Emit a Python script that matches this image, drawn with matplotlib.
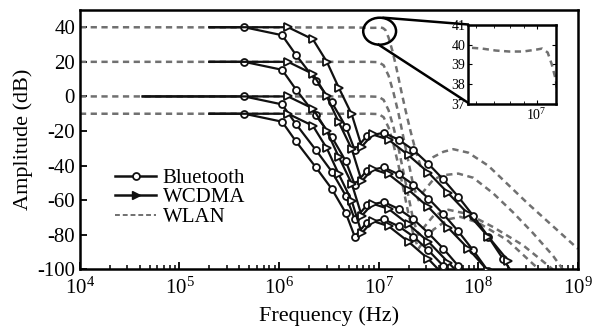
import matplotlib
matplotlib.use("Agg")
import matplotlib.pyplot as plt
from matplotlib.lines import Line2D
from matplotlib.patches import Ellipse
from matplotlib.ticker import LogLocator, NullFormatter

plt.rcParams['font.family'] = ['Liberation Serif', 'DejaVu Serif']
plt.rcParams['mathtext.fontset'] = 'stix'
plt.rcParams['axes.unicode_minus'] = False

# passband gain settings (dB)
gains = [40, 20, 0, -10]
line_start = [5.3, 5.3, 4.63, 5.3]   # log10 f where the solid curves begin

# Bluetooth response relative to passband gain (log10 f, dB)
bt_logf = [5.65, 6.03, 6.17, 6.37, 6.53, 6.67, 6.76, 6.88, 7.05, 7.2, 7.35, 7.5, 7.65, 7.8, 7.95, 8.1, 8.25, 8.4]
bt_rel = [0, -4.6, -16, -31, -43.5, -57.4, -71, -63, -61, -65, -71, -79, -88, -98, -109, -121, -134, -147]

# WCDMA response relative to passband gain
wc_logf = [6.09, 6.34, 6.48, 6.6, 6.73, 6.83, 6.94, 7.1, 7.3, 7.5, 7.7, 7.9, 8.1, 8.3]
wc_rel = [0, -7, -20, -35, -50.4, -69, -62, -65, -74, -84, -96, -108, -121, -135]

# WLAN curves, one per gain
wlan_logf = {
    40: [4.0, 6.75, 6.8, 6.85, 6.9, 6.95, 7.0, 7.02, 7.04, 7.055, 7.07, 7.1, 7.14, 7.18, 7.22, 7.27,
         7.32, 7.37, 7.42, 7.47, 7.55, 7.65, 7.75, 7.9, 8.1, 8.3, 8.5, 8.75, 9.0],
    20: [4.0, 6.9, 7.0, 7.05, 7.1, 7.15, 7.2, 7.25, 7.3, 7.35, 7.4, 7.45, 7.55, 7.65, 7.8, 7.95,
         8.15, 8.35, 8.55, 8.75, 8.85],
    0: [4.0, 6.9, 7.0, 7.05, 7.1, 7.15, 7.2, 7.25, 7.3, 7.35, 7.4, 7.45, 7.55, 7.7, 7.9, 8.15,
        8.45, 8.75],
    -10: [4.0, 6.9, 7.0, 7.05, 7.1, 7.15, 7.2, 7.25, 7.3, 7.35, 7.4, 7.45, 7.55, 7.7, 7.82, 8.0,
          8.29, 8.61],
}
wlan_db = {
    40: [40, 39.85, 39.8, 39.7, 39.65, 39.65, 39.75, 39.8, 39.6, 39.0, 38.2, 34, 26, 16, 5, -8,
         -20, -31, -40, -40, -35, -32, -30.5, -32.5, -40, -51, -62, -75, -88],
    20: [20, 20, 19.8, 18, 12, 2, -10, -24, -38, -52, -60, -55, -48, -45.5, -44.6, -47,
         -56, -67, -79, -92, -100],
    0: [0, 0, -0.2, -2, -8, -18, -30, -44, -58, -72, -80, -76, -69, -65.5, -68, -75.5,
        -86, -100],
    -10: [-10, -10, -10.2, -12, -18, -28, -40, -54, -68, -80, -88, -84, -77, -71, -69.6, -73,
          -83, -100],
}

yticks = [-100, -80, -60, -40, -20, 0, 20, 40]
inset_yticks = [37, 38, 39, 40, 41]

solid = '#111111'
gray = '#707070'

fig = plt.figure(figsize=(5.92, 3.31), dpi=100)
ax = fig.add_axes([0.135, 0.186, 0.841, 0.784])


def draw_curves(a, ms=5):
    for g in gains:
        a.plot([10 ** v for v in wlan_logf[g]], wlan_db[g], color=gray, lw=1.8,
               dashes=(2.5, 1.8), zorder=2)
    for g, s in zip(gains, line_start):
        x = [10 ** s] + [10 ** v for v in bt_logf]
        y = [g] + [g + r for r in bt_rel]
        a.plot(x, y, color=solid, lw=1.6, marker='o', ms=ms, mfc='white', mec=solid,
               mew=1.3, markevery=list(range(1, len(x))), zorder=3)
        x = [10 ** s] + [10 ** v for v in wc_logf]
        y = [g] + [g + r for r in wc_rel]
        a.plot(x, y, color=solid, lw=1.6, marker='>', ms=ms + 1, mfc='white', mec=solid,
               mew=1.3, markevery=list(range(1, len(x))), zorder=3)


draw_curves(ax)
ax.set_xscale('log')
ax.set_xlim(1e4, 1e9)
ax.set_ylim(-100, 50)
ax.set_yticks(yticks)
ax.xaxis.set_minor_locator(LogLocator(base=10, subs=range(2, 10), numticks=20))
ax.xaxis.set_minor_formatter(NullFormatter())
ax.tick_params(which='both', direction='in', labelsize=15, top=False, right=False)
ax.tick_params(which='major', length=5, width=1.3)
ax.tick_params(which='minor', length=3, width=1.1)
ax.tick_params(axis='x', pad=6)
for sp in ax.spines.values():
    sp.set_linewidth(1.8)
ax.set_xlabel('Frequency (Hz)', fontsize=16, labelpad=5)
ax.set_ylabel('Amplitude (dB)', fontsize=16, labelpad=3)

handles = [
    Line2D([], [], color=solid, lw=1.8, marker='o', ms=5, mfc='white', mec=solid, mew=1.3),
    Line2D([], [], color=solid, lw=1.8, marker='>', ms=6, mfc=solid, mec=solid),
    Line2D([], [], color=gray, lw=1.4, dashes=(2.5, 1.5)),
]
ax.legend(handles, ['Bluetooth', 'WCDMA', 'WLAN'], loc='upper left',
          bbox_to_anchor=(0.07, 0.39), frameon=False, fontsize=15, handlelength=2.0,
          handletextpad=0.3, labelspacing=0.0, borderpad=0, borderaxespad=0)

# zoom marker
ax.add_patch(Ellipse((0.602, 0.918), 0.066, 0.104, transform=ax.transAxes, fill=False,
                     lw=1.8, color='black', clip_on=False, zorder=5))
ax.plot([0.61, 0.779], [0.97, 0.944], transform=ax.transAxes, color='black', lw=1.8,
        clip_on=False, zorder=5)
ax.plot([0.60, 0.779], [0.866, 0.643], transform=ax.transAxes, color='black', lw=1.8,
        clip_on=False, zorder=5)

ins = fig.add_axes([0.791, 0.686, 0.148, 0.239])
ins.plot([10 ** v for v in wlan_logf[40]], wlan_db[40], color=gray, lw=1.8,
         dashes=(2.5, 1.8))
ins.set_xscale('log')
ins.set_xlim(10 ** 6.75, 10 ** 7.07)
ins.set_ylim(37, 41)
ins.set_yticks(inset_yticks)
ins.set_xticks([1e7])
ins.xaxis.set_minor_locator(LogLocator(base=10, subs=range(2, 10), numticks=20))
ins.xaxis.set_minor_formatter(NullFormatter())
ins.tick_params(which='both', direction='in', labelsize=10, top=True, right=True, pad=2)
ins.tick_params(which='major', length=3)
ins.tick_params(which='minor', length=2)
for sp in ins.spines.values():
    sp.set_linewidth(1.8)

fig.savefig('out.png', dpi=100)
